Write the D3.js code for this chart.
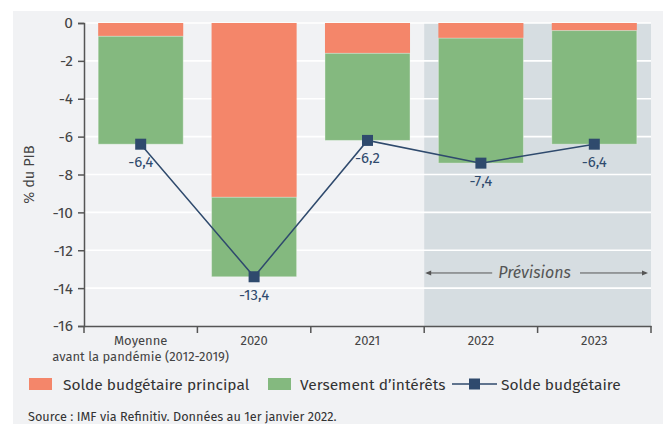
<!DOCTYPE html>
<html>
<head>
<meta charset="utf-8">
<script src="https://cdn.jsdelivr.net/npm/d3@7"></script>
<style>
  body { margin: 0; background: #fff; }
  svg { display: block; font-family: "Fira Sans", "Noto Sans", sans-serif; }
</style>
</head>
<body>
<div id="chart"></div>
<script>
// categories and series (% du PIB)
const categories = ["Moyenne\navant la pandémie (2012-2019)", "2020", "2021", "2022", "2023"];
const primaryBalance = [-0.7, -9.2, -1.6, -0.8, -0.4];
const interestPayments = [-5.7, -4.2, -4.6, -6.6, -6.0];
const budgetBalance = [-6.4, -13.4, -6.2, -7.4, -6.4];
const yTicks = [0, -2, -4, -6, -8, -10, -12, -14, -16];
const forecastCats = ["2022", "2023"];

const W = 668, H = 424;
const margin = {top: 23, right: 17, bottom: 98, left: 84};
const innerW = W - margin.left - margin.right,
  innerH = H - margin.top - margin.bottom;

const colOrange = "#f4866a", colGreen = "#84b97f", colNavy = "#2f4a6d";

const svg = d3.select("#chart")
  .append("svg")
    .attr("width", W)
    .attr("height", H);

// grey panel
svg.append("rect")
  .attr("x", 13).attr("y", 11)
  .attr("width", 650).attr("height", H - 11)
  .attr("fill", "#f1f2f4");

const g = svg.append("g")
  .attr("transform", "translate(" + margin.left + "," + margin.top + ")");

const x = d3.scaleBand().domain(categories).range([0, innerW]).padding(0);
const y = d3.scaleLinear().domain([-16, 0]).range([innerH, 0]);
const barW = x.bandwidth() * 0.75;
const cx = d => x(d) + x.bandwidth() / 2;

// forecast shading
g.append("rect")
  .attr("x", x(forecastCats[0]))
  .attr("y", 0)
  .attr("width", innerW - x(forecastCats[0]))
  .attr("height", innerH)
  .attr("fill", "#d6dde1");

// gridlines
g.selectAll("line.grid")
  .data(yTicks.filter(t => t !== -16))
  .join("line")
    .attr("class", "grid")
    .attr("x1", 0).attr("x2", innerW)
    .attr("y1", d => y(d)).attr("y2", d => y(d))
    .attr("stroke", "#fff")
    .attr("stroke-width", 1.6);

// stacked bars
const stack = categories.map((c, i) => ({
  cat: c,
  p: primaryBalance[i],
  it: interestPayments[i]
}));

g.selectAll("rect.primary")
  .data(stack)
  .join("rect")
    .attr("class", "primary")
    .attr("x", d => cx(d.cat) - barW / 2)
    .attr("width", barW)
    .attr("y", y(0))
    .attr("height", d => y(d.p) - y(0))
    .attr("fill", colOrange);

g.selectAll("rect.interest")
  .data(stack)
  .join("rect")
    .attr("class", "interest")
    .attr("x", d => cx(d.cat) - barW / 2)
    .attr("width", barW)
    .attr("y", d => y(d.p))
    .attr("height", d => y(d.p + d.it) - y(d.p))
    .attr("fill", colGreen)
    .attr("stroke", "#ffffff")
    .attr("stroke-opacity", 0.35)
    .attr("stroke-width", 1);

// line of solde budgétaire
const line = d3.line()
  .x((d, i) => cx(categories[i]))
  .y(d => y(d));

g.append("path")
  .datum(budgetBalance)
  .attr("d", line)
  .attr("fill", "none")
  .attr("stroke", colNavy)
  .attr("stroke-width", 1.5);

g.selectAll("rect.marker")
  .data(budgetBalance)
  .join("rect")
    .attr("class", "marker")
    .attr("x", (d, i) => cx(categories[i]) - 5.5)
    .attr("y", d => y(d) - 5.5)
    .attr("width", 11).attr("height", 11)
    .attr("fill", colNavy);

g.selectAll("text.val")
  .data(budgetBalance)
  .join("text")
    .attr("class", "val")
    .attr("x", (d, i) => cx(categories[i]))
    .attr("y", d => y(d) + 23)
    .attr("text-anchor", "middle")
    .attr("font-size", 15)
    .attr("fill", colNavy)
    .text(d => d3.format(".1f")(d).replace(".", ",").replace("−", "-"));

// y axis
const yAxis = g.append("g")
  .call(d3.axisLeft(y).tickValues(yTicks).tickSize(6).tickPadding(5)
    .tickFormat(d => String(d)));
yAxis.attr("font-size", null).attr("font-family", null);
yAxis.select(".domain").attr("stroke", "#555").attr("stroke-width", 1.5);
yAxis.selectAll(".tick line").attr("stroke", "#555").attr("stroke-width", 1.5);
yAxis.selectAll(".tick text").attr("font-size", 15.5).attr("fill", "#444");

// x axis
const xAxis = g.append("g")
  .attr("transform", "translate(0," + innerH + ")")
  .call(d3.axisBottom(x).tickSize(0).tickFormat(""));
xAxis.attr("font-size", null).attr("font-family", null);
xAxis.select(".domain").attr("stroke", "#555").attr("stroke-width", 1.5);
xAxis.selectAll(".tick").remove();

// tick marks at band boundaries
const bounds = categories.map(c => x(c)).concat([innerW]);
xAxis.selectAll("line.bt")
  .data(bounds)
  .join("line")
    .attr("class", "bt")
    .attr("x1", d => d).attr("x2", d => d)
    .attr("y1", 0).attr("y2", 7)
    .attr("stroke", "#555")
    .attr("stroke-width", 1.5);

const xl = xAxis.selectAll("text.xl")
  .data(categories)
  .join("text")
    .attr("class", "xl")
    .attr("x", d => cx(d))
    .attr("y", 19)
    .attr("text-anchor", "middle")
    .attr("font-size", 13)
    .attr("fill", "#444");
xl.each(function(d) {
  const parts = d.split("\n");
  d3.select(this).selectAll("tspan")
    .data(parts)
    .join("tspan")
      .attr("x", cx(d))
      .attr("dy", (p, i) => i === 0 ? 0 : 15.5)
      .text(p => p);
});

// y title
g.append("text")
  .attr("transform", "translate(-50," + innerH / 2 + ") rotate(-90)")
  .attr("text-anchor", "middle")
  .attr("font-size", 14.5)
  .attr("fill", "#444")
  .text("% du PIB");

// Prévisions annotation
const annY = y(-13.2);
const fx0 = x(forecastCats[0]), fx1 = innerW;
const ann = g.append("g").attr("fill", "#555").attr("stroke", "#555");
ann.append("line").attr("x1", fx0 + 3).attr("x2", fx0 + 68)
  .attr("y1", annY).attr("y2", annY).attr("stroke-width", 1);
ann.append("path").attr("stroke", "none")
  .attr("d", `M${fx0 + 1},${annY} l6,-2.5 l0,5 z`);
ann.append("line").attr("x1", fx1 - 71).attr("x2", fx1 - 5)
  .attr("y1", annY).attr("y2", annY).attr("stroke-width", 1);
ann.append("path").attr("stroke", "none")
  .attr("d", `M${fx1 - 3},${annY} l-6,-2.5 l0,5 z`);
ann.append("text")
  .attr("x", (fx0 + fx1) / 2 - 3)
  .attr("y", annY + 5.5)
  .attr("text-anchor", "middle")
  .attr("stroke", "none")
  .attr("font-size", 16)
  .attr("font-style", "italic")
  .text("Prévisions");

// legend
const leg = svg.append("g").attr("transform", "translate(0,384)");
leg.append("rect").attr("x", 29).attr("y", -6).attr("width", 23).attr("height", 12).attr("fill", colOrange);
leg.append("text").attr("x", 63).attr("y", 5.5).attr("font-size", 15.5).attr("fill", "#333")
  .text("Solde budgétaire principal");
leg.append("rect").attr("x", 268).attr("y", -6).attr("width", 23).attr("height", 12).attr("fill", colGreen);
leg.append("text").attr("x", 300).attr("y", 5.5).attr("font-size", 15.5).attr("fill", "#333")
  .text("Versement d’intérêts");
leg.append("line").attr("x1", 452).attr("x2", 497).attr("y1", 0).attr("y2", 0)
  .attr("stroke", colNavy).attr("stroke-width", 1.5);
leg.append("rect").attr("x", 469).attr("y", -5.5).attr("width", 11).attr("height", 11).attr("fill", colNavy);
leg.append("text").attr("x", 501).attr("y", 5.5).attr("font-size", 15.5).attr("fill", "#333")
  .text("Solde budgétaire");

// source
svg.append("text")
  .attr("x", 28).attr("y", 421)
  .attr("font-size", 12.7)
  .attr("fill", "#333")
  .text("Source : IMF via Refinitiv. Données au 1er janvier 2022.");
</script>
</body>
</html>
